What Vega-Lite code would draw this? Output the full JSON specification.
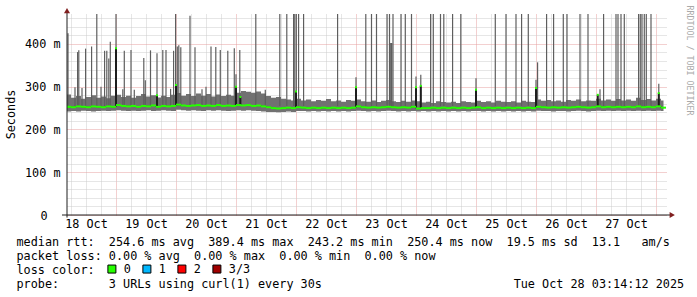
{
  "$schema": "https://vega.github.io/schema/vega-lite/v6.json",
  "width": 600,
  "height": 201,
  "autosize": {"type": "none"},
  "padding": {"left": 67, "top": 14, "right": 30, "bottom": 82},
  "background": "#ffffff",
  "config": {
    "view": {"stroke": null},
    "font": "DejaVu Sans Mono",
    "axis": {"labelFont": "DejaVu Sans Mono", "titleFont": "DejaVu Sans Mono", "labelFontSize": 11.8, "titleFontSize": 11.8, "labelColor": "#000000", "titleColor": "#000000", "titleFontWeight": "normal"}
  },
  "datasets": {
    "band": [
      {"t":"2025-10-18T04:24:00Z","lo":242,"hi":282,"med":253,"loss":"0"},
      {"t":"2025-10-18T05:00:00Z","lo":242,"hi":282,"med":253,"loss":"0"},
      {"t":"2025-10-18T07:00:00Z","lo":243,"hi":274,"med":252,"loss":"0"},
      {"t":"2025-10-18T09:00:00Z","lo":242,"hi":278,"med":254,"loss":"0"},
      {"t":"2025-10-18T11:00:00Z","lo":244,"hi":272,"med":253,"loss":"0"},
      {"t":"2025-10-18T13:00:00Z","lo":243,"hi":276,"med":252,"loss":"0"},
      {"t":"2025-10-18T15:00:00Z","lo":242,"hi":280,"med":254,"loss":"0"},
      {"t":"2025-10-18T17:00:00Z","lo":243,"hi":274,"med":253,"loss":"0"},
      {"t":"2025-10-18T19:00:00Z","lo":244,"hi":277,"med":252,"loss":"0"},
      {"t":"2025-10-18T21:00:00Z","lo":243,"hi":273,"med":254,"loss":"0"},
      {"t":"2025-10-18T23:00:00Z","lo":244,"hi":279,"med":253,"loss":"0"},
      {"t":"2025-10-19T01:00:00Z","lo":245,"hi":281,"med":257,"loss":"0"},
      {"t":"2025-10-19T03:00:00Z","lo":244,"hi":276,"med":255,"loss":"0"},
      {"t":"2025-10-19T05:00:00Z","lo":243,"hi":279,"med":254,"loss":"0"},
      {"t":"2025-10-19T07:00:00Z","lo":244,"hi":274,"med":255,"loss":"0"},
      {"t":"2025-10-19T09:00:00Z","lo":243,"hi":278,"med":253,"loss":"0"},
      {"t":"2025-10-19T11:00:00Z","lo":244,"hi":283,"med":255,"loss":"0"},
      {"t":"2025-10-19T13:00:00Z","lo":245,"hi":277,"med":254,"loss":"0"},
      {"t":"2025-10-19T15:00:00Z","lo":243,"hi":280,"med":256,"loss":"0"},
      {"t":"2025-10-19T17:00:00Z","lo":244,"hi":275,"med":253,"loss":"0"},
      {"t":"2025-10-19T19:00:00Z","lo":245,"hi":279,"med":255,"loss":"0"},
      {"t":"2025-10-19T21:00:00Z","lo":244,"hi":276,"med":254,"loss":"0"},
      {"t":"2025-10-19T23:00:00Z","lo":243,"hi":281,"med":255,"loss":"0"},
      {"t":"2025-10-20T01:00:00Z","lo":246,"hi":285,"med":258,"loss":"0"},
      {"t":"2025-10-20T03:00:00Z","lo":245,"hi":279,"med":256,"loss":"0"},
      {"t":"2025-10-20T05:00:00Z","lo":244,"hi":283,"med":255,"loss":"0"},
      {"t":"2025-10-20T07:00:00Z","lo":245,"hi":278,"med":256,"loss":"0"},
      {"t":"2025-10-20T09:00:00Z","lo":244,"hi":284,"med":257,"loss":"0"},
      {"t":"2025-10-20T11:00:00Z","lo":243,"hi":279,"med":255,"loss":"0"},
      {"t":"2025-10-20T13:00:00Z","lo":245,"hi":283,"med":256,"loss":"0"},
      {"t":"2025-10-20T15:00:00Z","lo":244,"hi":277,"med":255,"loss":"0"},
      {"t":"2025-10-20T17:00:00Z","lo":245,"hi":282,"med":257,"loss":"0"},
      {"t":"2025-10-20T19:00:00Z","lo":244,"hi":278,"med":255,"loss":"0"},
      {"t":"2025-10-20T21:00:00Z","lo":243,"hi":281,"med":256,"loss":"0"},
      {"t":"2025-10-20T23:00:00Z","lo":244,"hi":279,"med":255,"loss":"0"},
      {"t":"2025-10-21T01:00:00Z","lo":245,"hi":286,"med":257,"loss":"0"},
      {"t":"2025-10-21T03:00:00Z","lo":244,"hi":290,"med":256,"loss":"0"},
      {"t":"2025-10-21T05:00:00Z","lo":245,"hi":288,"med":257,"loss":"0"},
      {"t":"2025-10-21T07:00:00Z","lo":244,"hi":286,"med":255,"loss":"0"},
      {"t":"2025-10-21T09:00:00Z","lo":243,"hi":289,"med":256,"loss":"0"},
      {"t":"2025-10-21T11:00:00Z","lo":242,"hi":284,"med":254,"loss":"0"},
      {"t":"2025-10-21T13:00:00Z","lo":241,"hi":278,"med":252,"loss":"0"},
      {"t":"2025-10-21T15:00:00Z","lo":241,"hi":274,"med":250,"loss":"0"},
      {"t":"2025-10-21T17:00:00Z","lo":240,"hi":276,"med":249,"loss":"0"},
      {"t":"2025-10-21T19:00:00Z","lo":241,"hi":272,"med":250,"loss":"0"},
      {"t":"2025-10-21T21:00:00Z","lo":242,"hi":270,"med":251,"loss":"0"},
      {"t":"2025-10-21T23:00:00Z","lo":241,"hi":268,"med":250,"loss":"0"},
      {"t":"2025-10-22T01:00:00Z","lo":243,"hi":272,"med":252,"loss":"0"},
      {"t":"2025-10-22T03:00:00Z","lo":243,"hi":268,"med":251,"loss":"0"},
      {"t":"2025-10-22T05:00:00Z","lo":242,"hi":270,"med":250,"loss":"0"},
      {"t":"2025-10-22T07:00:00Z","lo":243,"hi":266,"med":251,"loss":"0"},
      {"t":"2025-10-22T09:00:00Z","lo":242,"hi":269,"med":250,"loss":"0"},
      {"t":"2025-10-22T11:00:00Z","lo":243,"hi":267,"med":251,"loss":"0"},
      {"t":"2025-10-22T13:00:00Z","lo":242,"hi":271,"med":250,"loss":"0"},
      {"t":"2025-10-22T15:00:00Z","lo":243,"hi":266,"med":251,"loss":"0"},
      {"t":"2025-10-22T17:00:00Z","lo":242,"hi":268,"med":250,"loss":"0"},
      {"t":"2025-10-22T19:00:00Z","lo":243,"hi":265,"med":251,"loss":"0"},
      {"t":"2025-10-22T21:00:00Z","lo":242,"hi":269,"med":250,"loss":"0"},
      {"t":"2025-10-22T23:00:00Z","lo":243,"hi":267,"med":251,"loss":"0"},
      {"t":"2025-10-23T01:00:00Z","lo":244,"hi":270,"med":254,"loss":"0"},
      {"t":"2025-10-23T03:00:00Z","lo":243,"hi":266,"med":252,"loss":"0"},
      {"t":"2025-10-23T05:00:00Z","lo":242,"hi":265,"med":251,"loss":"0"},
      {"t":"2025-10-23T07:00:00Z","lo":243,"hi":268,"med":252,"loss":"0"},
      {"t":"2025-10-23T09:00:00Z","lo":242,"hi":264,"med":251,"loss":"0"},
      {"t":"2025-10-23T11:00:00Z","lo":243,"hi":267,"med":252,"loss":"0"},
      {"t":"2025-10-23T13:00:00Z","lo":244,"hi":269,"med":253,"loss":"0"},
      {"t":"2025-10-23T15:00:00Z","lo":243,"hi":266,"med":252,"loss":"0"},
      {"t":"2025-10-23T17:00:00Z","lo":242,"hi":264,"med":251,"loss":"0"},
      {"t":"2025-10-23T19:00:00Z","lo":243,"hi":267,"med":252,"loss":"0"},
      {"t":"2025-10-23T21:00:00Z","lo":242,"hi":265,"med":251,"loss":"0"},
      {"t":"2025-10-23T23:00:00Z","lo":243,"hi":268,"med":253,"loss":"0"},
      {"t":"2025-10-24T01:00:00Z","lo":242,"hi":266,"med":249,"loss":"0"},
      {"t":"2025-10-24T03:00:00Z","lo":243,"hi":263,"med":250,"loss":"0"},
      {"t":"2025-10-24T05:00:00Z","lo":242,"hi":265,"med":250,"loss":"0"},
      {"t":"2025-10-24T07:00:00Z","lo":243,"hi":262,"med":251,"loss":"0"},
      {"t":"2025-10-24T09:00:00Z","lo":242,"hi":266,"med":250,"loss":"0"},
      {"t":"2025-10-24T11:00:00Z","lo":243,"hi":264,"med":251,"loss":"0"},
      {"t":"2025-10-24T13:00:00Z","lo":242,"hi":263,"med":250,"loss":"0"},
      {"t":"2025-10-24T15:00:00Z","lo":243,"hi":265,"med":251,"loss":"0"},
      {"t":"2025-10-24T17:00:00Z","lo":242,"hi":262,"med":250,"loss":"0"},
      {"t":"2025-10-24T19:00:00Z","lo":243,"hi":266,"med":251,"loss":"0"},
      {"t":"2025-10-24T21:00:00Z","lo":242,"hi":264,"med":250,"loss":"0"},
      {"t":"2025-10-24T23:00:00Z","lo":243,"hi":263,"med":251,"loss":"0"},
      {"t":"2025-10-25T01:00:00Z","lo":243,"hi":267,"med":252,"loss":"0"},
      {"t":"2025-10-25T03:00:00Z","lo":242,"hi":264,"med":250,"loss":"0"},
      {"t":"2025-10-25T05:00:00Z","lo":243,"hi":266,"med":251,"loss":"0"},
      {"t":"2025-10-25T07:00:00Z","lo":242,"hi":263,"med":250,"loss":"0"},
      {"t":"2025-10-25T09:00:00Z","lo":243,"hi":267,"med":251,"loss":"0"},
      {"t":"2025-10-25T11:00:00Z","lo":242,"hi":265,"med":250,"loss":"0"},
      {"t":"2025-10-25T13:00:00Z","lo":243,"hi":264,"med":251,"loss":"0"},
      {"t":"2025-10-25T15:00:00Z","lo":242,"hi":266,"med":250,"loss":"0"},
      {"t":"2025-10-25T17:00:00Z","lo":243,"hi":263,"med":251,"loss":"0"},
      {"t":"2025-10-25T19:00:00Z","lo":242,"hi":267,"med":250,"loss":"0"},
      {"t":"2025-10-25T21:00:00Z","lo":243,"hi":265,"med":251,"loss":"0"},
      {"t":"2025-10-25T23:00:00Z","lo":242,"hi":264,"med":250,"loss":"0"},
      {"t":"2025-10-26T01:00:00Z","lo":244,"hi":270,"med":253,"loss":"0"},
      {"t":"2025-10-26T03:00:00Z","lo":243,"hi":267,"med":252,"loss":"0"},
      {"t":"2025-10-26T05:00:00Z","lo":243,"hi":269,"med":251,"loss":"0"},
      {"t":"2025-10-26T07:00:00Z","lo":242,"hi":266,"med":252,"loss":"0"},
      {"t":"2025-10-26T09:00:00Z","lo":243,"hi":268,"med":251,"loss":"0"},
      {"t":"2025-10-26T11:00:00Z","lo":243,"hi":265,"med":252,"loss":"0"},
      {"t":"2025-10-26T13:00:00Z","lo":242,"hi":269,"med":251,"loss":"0"},
      {"t":"2025-10-26T15:00:00Z","lo":243,"hi":267,"med":252,"loss":"0"},
      {"t":"2025-10-26T17:00:00Z","lo":244,"hi":270,"med":253,"loss":"0"},
      {"t":"2025-10-26T19:00:00Z","lo":243,"hi":266,"med":252,"loss":"0"},
      {"t":"2025-10-26T21:00:00Z","lo":242,"hi":268,"med":251,"loss":"0"},
      {"t":"2025-10-26T23:00:00Z","lo":243,"hi":267,"med":252,"loss":"0"},
      {"t":"2025-10-27T01:00:00Z","lo":244,"hi":272,"med":254,"loss":"0"},
      {"t":"2025-10-27T03:00:00Z","lo":243,"hi":268,"med":252,"loss":"0"},
      {"t":"2025-10-27T05:00:00Z","lo":244,"hi":270,"med":253,"loss":"0"},
      {"t":"2025-10-27T07:00:00Z","lo":243,"hi":267,"med":252,"loss":"0"},
      {"t":"2025-10-27T09:00:00Z","lo":244,"hi":271,"med":253,"loss":"0"},
      {"t":"2025-10-27T11:00:00Z","lo":243,"hi":268,"med":252,"loss":"0"},
      {"t":"2025-10-27T13:00:00Z","lo":244,"hi":270,"med":253,"loss":"0"},
      {"t":"2025-10-27T15:00:00Z","lo":243,"hi":267,"med":252,"loss":"0"},
      {"t":"2025-10-27T17:00:00Z","lo":244,"hi":274,"med":254,"loss":"0"},
      {"t":"2025-10-27T19:00:00Z","lo":243,"hi":269,"med":252,"loss":"0"},
      {"t":"2025-10-27T21:00:00Z","lo":244,"hi":271,"med":253,"loss":"0"},
      {"t":"2025-10-27T23:00:00Z","lo":243,"hi":268,"med":252,"loss":"0"},
      {"t":"2025-10-28T01:00:00Z","lo":244,"hi":272,"med":254,"loss":"0"},
      {"t":"2025-10-28T03:00:00Z","lo":243,"hi":268,"med":251,"loss":"0"}
    ],
    "spikes": [
      {"t":"2025-10-18T04:48:00Z","top":425},
      {"t":"2025-10-18T07:36:00Z","top":299},
      {"t":"2025-10-18T08:38:00Z","top":381},
      {"t":"2025-10-18T09:07:00Z","top":385},
      {"t":"2025-10-18T10:24:00Z","top":297},
      {"t":"2025-10-18T11:50:00Z","top":389},
      {"t":"2025-10-18T14:14:00Z","top":394},
      {"t":"2025-10-18T16:19:00Z","top":470},
      {"t":"2025-10-18T18:00:00Z","top":300},
      {"t":"2025-10-18T19:26:00Z","top":384},
      {"t":"2025-10-18T20:19:00Z","top":384},
      {"t":"2025-10-18T21:07:00Z","top":366},
      {"t":"2025-10-18T21:43:00Z","top":405},
      {"t":"2025-10-19T00:00:00Z","top":470},
      {"t":"2025-10-19T02:43:00Z","top":294},
      {"t":"2025-10-19T03:19:00Z","top":384},
      {"t":"2025-10-19T06:00:00Z","top":386},
      {"t":"2025-10-19T07:19:00Z","top":293},
      {"t":"2025-10-19T11:07:00Z","top":367},
      {"t":"2025-10-19T11:43:00Z","top":315},
      {"t":"2025-10-19T13:48:00Z","top":385},
      {"t":"2025-10-19T16:24:00Z","top":378},
      {"t":"2025-10-19T18:43:00Z","top":386},
      {"t":"2025-10-19T20:00:00Z","top":386},
      {"t":"2025-10-19T21:50:00Z","top":295},
      {"t":"2025-10-19T23:02:00Z","top":384},
      {"t":"2025-10-19T23:50:00Z","top":470},
      {"t":"2025-10-20T00:31:00Z","top":394},
      {"t":"2025-10-20T01:07:00Z","top":397},
      {"t":"2025-10-20T01:55:00Z","top":392},
      {"t":"2025-10-20T05:36:00Z","top":466},
      {"t":"2025-10-20T07:36:00Z","top":392},
      {"t":"2025-10-20T10:24:00Z","top":294},
      {"t":"2025-10-20T12:00:00Z","top":300},
      {"t":"2025-10-20T14:00:00Z","top":394},
      {"t":"2025-10-20T15:55:00Z","top":393},
      {"t":"2025-10-20T17:43:00Z","top":386},
      {"t":"2025-10-20T20:43:00Z","top":384},
      {"t":"2025-10-20T23:19:00Z","top":390},
      {"t":"2025-10-21T00:00:00Z","top":329},
      {"t":"2025-10-21T01:31:00Z","top":386},
      {"t":"2025-10-21T07:55:00Z","top":470},
      {"t":"2025-10-21T11:43:00Z","top":293},
      {"t":"2025-10-21T17:31:00Z","top":470},
      {"t":"2025-10-21T20:19:00Z","top":470},
      {"t":"2025-10-21T23:02:00Z","top":470},
      {"t":"2025-10-21T23:31:00Z","top":470},
      {"t":"2025-10-22T00:07:00Z","top":470},
      {"t":"2025-10-22T01:02:00Z","top":470},
      {"t":"2025-10-22T03:02:00Z","top":470},
      {"t":"2025-10-22T16:38:00Z","top":470},
      {"t":"2025-10-23T00:00:00Z","top":322},
      {"t":"2025-10-23T03:55:00Z","top":470},
      {"t":"2025-10-23T06:12:00Z","top":470},
      {"t":"2025-10-23T08:12:00Z","top":470},
      {"t":"2025-10-23T12:26:00Z","top":470},
      {"t":"2025-10-23T13:24:00Z","top":470},
      {"t":"2025-10-23T13:55:00Z","top":402},
      {"t":"2025-10-23T14:07:00Z","top":402},
      {"t":"2025-10-23T14:19:00Z","top":402},
      {"t":"2025-10-23T14:48:00Z","top":470},
      {"t":"2025-10-23T18:00:00Z","top":470},
      {"t":"2025-10-23T19:43:00Z","top":470},
      {"t":"2025-10-23T22:12:00Z","top":470},
      {"t":"2025-10-24T00:00:00Z","top":324},
      {"t":"2025-10-24T01:55:00Z","top":328},
      {"t":"2025-10-24T05:50:00Z","top":470},
      {"t":"2025-10-24T06:55:00Z","top":470},
      {"t":"2025-10-24T09:48:00Z","top":470},
      {"t":"2025-10-24T11:07:00Z","top":470},
      {"t":"2025-10-24T14:38:00Z","top":470},
      {"t":"2025-10-24T17:55:00Z","top":470},
      {"t":"2025-10-25T00:00:00Z","top":320},
      {"t":"2025-10-25T07:43:00Z","top":470},
      {"t":"2025-10-25T12:00:00Z","top":470},
      {"t":"2025-10-25T16:00:00Z","top":470},
      {"t":"2025-10-25T18:14:00Z","top":470},
      {"t":"2025-10-25T20:55:00Z","top":470},
      {"t":"2025-10-26T00:00:00Z","top":316},
      {"t":"2025-10-26T00:38:00Z","top":357},
      {"t":"2025-10-26T04:14:00Z","top":470},
      {"t":"2025-10-26T07:02:00Z","top":470},
      {"t":"2025-10-26T10:55:00Z","top":470},
      {"t":"2025-10-26T12:24:00Z","top":470},
      {"t":"2025-10-26T17:36:00Z","top":470},
      {"t":"2025-10-26T20:48:00Z","top":470},
      {"t":"2025-10-27T01:36:00Z","top":294},
      {"t":"2025-10-27T03:02:00Z","top":470},
      {"t":"2025-10-27T08:00:00Z","top":470},
      {"t":"2025-10-27T08:48:00Z","top":470},
      {"t":"2025-10-27T10:00:00Z","top":470},
      {"t":"2025-10-27T11:19:00Z","top":470},
      {"t":"2025-10-27T17:02:00Z","top":470},
      {"t":"2025-10-27T17:43:00Z","top":470},
      {"t":"2025-10-27T18:24:00Z","top":470},
      {"t":"2025-10-27T19:19:00Z","top":470},
      {"t":"2025-10-27T20:07:00Z","top":470},
      {"t":"2025-10-27T22:00:00Z","top":470},
      {"t":"2025-10-28T01:07:00Z","top":307}
    ],
    "medspikes": [
      {"t":"2025-10-19T00:00:00Z","base":254,"peak":390,"loss":"0"},
      {"t":"2025-10-19T16:24:00Z","base":255,"peak":280,"loss":"0"},
      {"t":"2025-10-20T00:00:00Z","base":256,"peak":304,"loss":"0"},
      {"t":"2025-10-21T00:00:00Z","base":255,"peak":300,"loss":"0"},
      {"t":"2025-10-21T01:45:00Z","base":256,"peak":276,"loss":"0"},
      {"t":"2025-10-22T00:00:00Z","base":251,"peak":289,"loss":"0"},
      {"t":"2025-10-23T00:00:00Z","base":252,"peak":299,"loss":"0"},
      {"t":"2025-10-24T00:00:00Z","base":252,"peak":299,"loss":"0"},
      {"t":"2025-10-24T01:55:00Z","base":250,"peak":302,"loss":"0"},
      {"t":"2025-10-25T00:00:00Z","base":251,"peak":293,"loss":"0"},
      {"t":"2025-10-26T00:00:00Z","base":251,"peak":297,"loss":"0"},
      {"t":"2025-10-27T00:43:00Z","base":253,"peak":281,"loss":"0"},
      {"t":"2025-10-28T01:07:00Z","base":253,"peak":285,"loss":"0"}
    ]
  },
  "resolve": {"axis": {"x": "independent", "y": "independent"}},
  "layer": [
    {
      "data": {"name": "band"},
      "mark": {"type": "area", "interpolate": "step", "color": "#717171", "opacity": 1, "clip": true},
      "encoding": {
        "x": {
          "field": "t", "type": "temporal",
          "scale": {"type": "utc", "nice": false, "domain": [1760761440000, 1761625440000]},
          "axis": {
            "orient": "bottom",
            "values": [1760767200000, 1760788800000, 1760810400000,
              1760832000000, 1760853600000, 1760875200000, 1760896800000,
              1760918400000, 1760940000000, 1760961600000, 1760983200000,
              1761004800000, 1761026400000, 1761048000000, 1761069600000,
              1761091200000, 1761112800000, 1761134400000, 1761156000000,
              1761177600000, 1761199200000, 1761220800000, 1761242400000,
              1761264000000, 1761285600000, 1761307200000, 1761328800000,
              1761350400000, 1761372000000, 1761393600000, 1761415200000,
              1761436800000, 1761458400000, 1761480000000, 1761501600000,
              1761523200000, 1761544800000, 1761566400000, 1761588000000,
              1761609600000],
            "grid": true,
            "gridColor": {"condition": {"test": "datum.value % 86400000 === 0", "value": "#e6a0a0"}, "value": "#cdcdcd"},
            "gridDash": [1, 1],
            "gridWidth": 1,
            "ticks": false,
            "domain": false,
            "labelExpr": "datum.value % 86400000 === 43200000 ? utcFormat(datum.value, '%d %b') : ''",
            "labelOverlap": false,
            "labelFlush": false,
            "labelAlign": "center",
            "labelBaseline": "alphabetic",
            "labelPadding": 12,
            "title": [
              "median\u00a0rtt:\u00a0\u00a0254.6\u00a0ms\u00a0avg\u00a0\u00a0389.4\u00a0ms\u00a0max\u00a0\u00a0243.2\u00a0ms\u00a0min\u00a0\u00a0250.4\u00a0ms\u00a0now\u00a0\u00a019.5\u00a0ms\u00a0sd\u00a0\u00a013.1\u00a0\u00a0\u00a0am/s",
              "packet\u00a0loss:\u00a00.00\u00a0%\u00a0avg\u00a0\u00a00.00\u00a0%\u00a0max\u00a0\u00a00.00\u00a0%\u00a0min\u00a0\u00a00.00\u00a0%\u00a0now",
              "loss\u00a0color:",
              "probe:\u00a0\u00a0\u00a0\u00a0\u00a0\u00a0\u00a03\u00a0URLs\u00a0using\u00a0curl(1)\u00a0every\u00a030s\u00a0\u00a0\u00a0\u00a0\u00a0\u00a0\u00a0\u00a0\u00a0\u00a0\u00a0\u00a0\u00a0\u00a0\u00a0\u00a0\u00a0\u00a0\u00a0\u00a0\u00a0\u00a0\u00a0\u00a0\u00a0\u00a0\u00a0Tue\u00a0Oct\u00a028\u00a003:14:12\u00a02025"
            ],
            "titleX": -51,
            "titleY": 30,
            "titleAlign": "left",
            "titleAnchor": "start",
            "titleBaseline": "alphabetic",
            "titleLineHeight": 14
          }
        },
        "y": {
          "field": "lo", "type": "quantitative",
          "scale": {"domain": [0, 470], "nice": false, "zero": true},
          "axis": {
            "orient": "left",
            "values": [0, 20, 40, 60, 80, 100, 120, 140, 160, 180, 200, 220, 240, 260, 280, 300, 320, 340, 360, 380, 400, 420, 440, 460],
            "grid": true,
            "gridColor": {"condition": {"test": "datum.value % 100 === 0", "value": "#e6a0a0"}, "value": "#cdcdcd"},
            "gridDash": [1, 1],
            "gridWidth": 1,
            "ticks": false,
            "domain": false,
            "labelExpr": "datum.value % 100 === 0 ? (datum.value === 0 ? '0' : datum.value + '\u00a0m') : ''",
            "labelOverlap": false,
            "labelPadding": {"condition": {"test": "datum.value === 0", "value": 20}, "value": 7},
            "labelBaseline": "middle",
            "title": "Seconds",
            "titleX": -57,
            "titleY": 100,
            "titleAngle": -90,
            "titleAlign": "center",
            "titleBaseline": "middle"
          }
        },
        "y2": {"field": "hi"}
      }
    },
    {
      "data": {"name": "spikes"},
      "mark": {"type": "rule", "color": "#5e5e5e", "strokeWidth": 1.2, "clip": true},
      "encoding": {
        "x": {"field": "t", "type": "temporal", "axis": null},
        "y": {"field": "top", "type": "quantitative", "axis": null},
        "y2": {"datum": 255}
      }
    },
    {
      "data": {"name": "band"},
      "mark": {"type": "line", "interpolate": "step", "color": "#1e1e1e", "strokeWidth": 1, "clip": true},
      "encoding": {
        "x": {"field": "t", "type": "temporal", "axis": null},
        "y": {"field": "med", "type": "quantitative", "axis": null}
      }
    },
    {
      "data": {"name": "medspikes"},
      "mark": {"type": "rule", "color": "#1e1e1e", "strokeWidth": 2, "clip": true},
      "encoding": {
        "x": {"field": "t", "type": "temporal", "axis": null},
        "y": {"field": "base", "type": "quantitative", "axis": null},
        "y2": {"field": "peak"}
      }
    },
    {
      "data": {"name": "band"},
      "mark": {"type": "tick", "orient": "horizontal", "size": 5, "thickness": 2, "opacity": 1, "clip": true},
      "encoding": {
        "x": {"field": "t", "type": "temporal", "axis": null},
        "y": {"field": "med", "type": "quantitative", "axis": null},
        "color": {
          "field": "loss", "type": "nominal",
          "scale": {"domain": ["0", "1", "2", "3/3"], "range": ["#26ff00", "#00b8ff", "#ff0000", "#a00000"]},
          "legend": {
            "orient": "none", "legendX": 39, "legendY": 249, "direction": "horizontal", "title": null,
            "symbolType": "square", "symbolSize": 64, "symbolOpacity": 1,
            "symbolStrokeColor": "#000000", "symbolStrokeWidth": 1,
            "labelFont": "DejaVu Sans Mono", "labelFontSize": 11.8, "labelColor": "#000000",
            "labelOffset": 6, "columnPadding": 9, "padding": 0,
            "encode": {"symbols": {"update": {"stroke": {"value": "#000000"}, "strokeWidth": {"value": 1}}}}
          }
        }
      }
    },
    {
      "data": {"name": "medspikes"},
      "mark": {"type": "tick", "orient": "horizontal", "size": 2, "thickness": 2, "opacity": 1, "clip": true},
      "encoding": {
        "x": {"field": "t", "type": "temporal", "axis": null},
        "y": {"field": "peak", "type": "quantitative", "axis": null},
        "color": {"field": "loss", "type": "nominal", "legend": null}
      }
    },
    {
      "data": {"values": [{}]},
      "mark": {"type": "rule", "color": "#1f1f1f", "strokeWidth": 1},
      "encoding": {
        "x": {"datum": 1760754240000, "type": "temporal", "axis": null},
        "x2": {"datum": 1761629760000},
        "y": {"datum": 0, "type": "quantitative", "axis": null}
      }
    },
    {
      "data": {"values": [{}]},
      "mark": {"type": "rule", "color": "#1f1f1f", "strokeWidth": 1},
      "encoding": {
        "x": {"datum": 1760761440000, "type": "temporal", "axis": null},
        "y": {"datum": -6, "type": "quantitative", "axis": null},
        "y2": {"datum": 475}
      }
    },
    {
      "data": {"values": [{}]},
      "mark": {"type": "point", "shape": "triangle-right", "filled": true, "color": "#801f1f", "size": 36, "opacity": 1},
      "encoding": {
        "x": {"datum": 1761633000000, "type": "temporal", "axis": null},
        "y": {"datum": 0, "type": "quantitative", "axis": null}
      }
    },
    {
      "data": {"values": [{}]},
      "mark": {"type": "point", "shape": "triangle-up", "filled": true, "color": "#801f1f", "size": 36, "opacity": 1},
      "encoding": {
        "x": {"datum": 1760761440000, "type": "temporal", "axis": null},
        "y": {"datum": 478, "type": "quantitative", "axis": null}
      }
    },
    {
      "mark": {"type": "rule", "opacity": 0},
      "encoding": {
        "y": {
          "datum": 0, "type": "quantitative",
          "axis": {
            "orient": "right", "labels": false, "ticks": false, "domain": false, "grid": false,
            "title": "RRDTOOL\u00a0/\u00a0TOBI\u00a0OETIKER",
            "titleX": 21, "titleY": -9, "titleAngle": 90, "titleAlign": "left", "titleBaseline": "middle",
            "titleFontSize": 8.3, "titleColor": "#aaaaaa"
          }
        }
      }
    }
  ]
}
